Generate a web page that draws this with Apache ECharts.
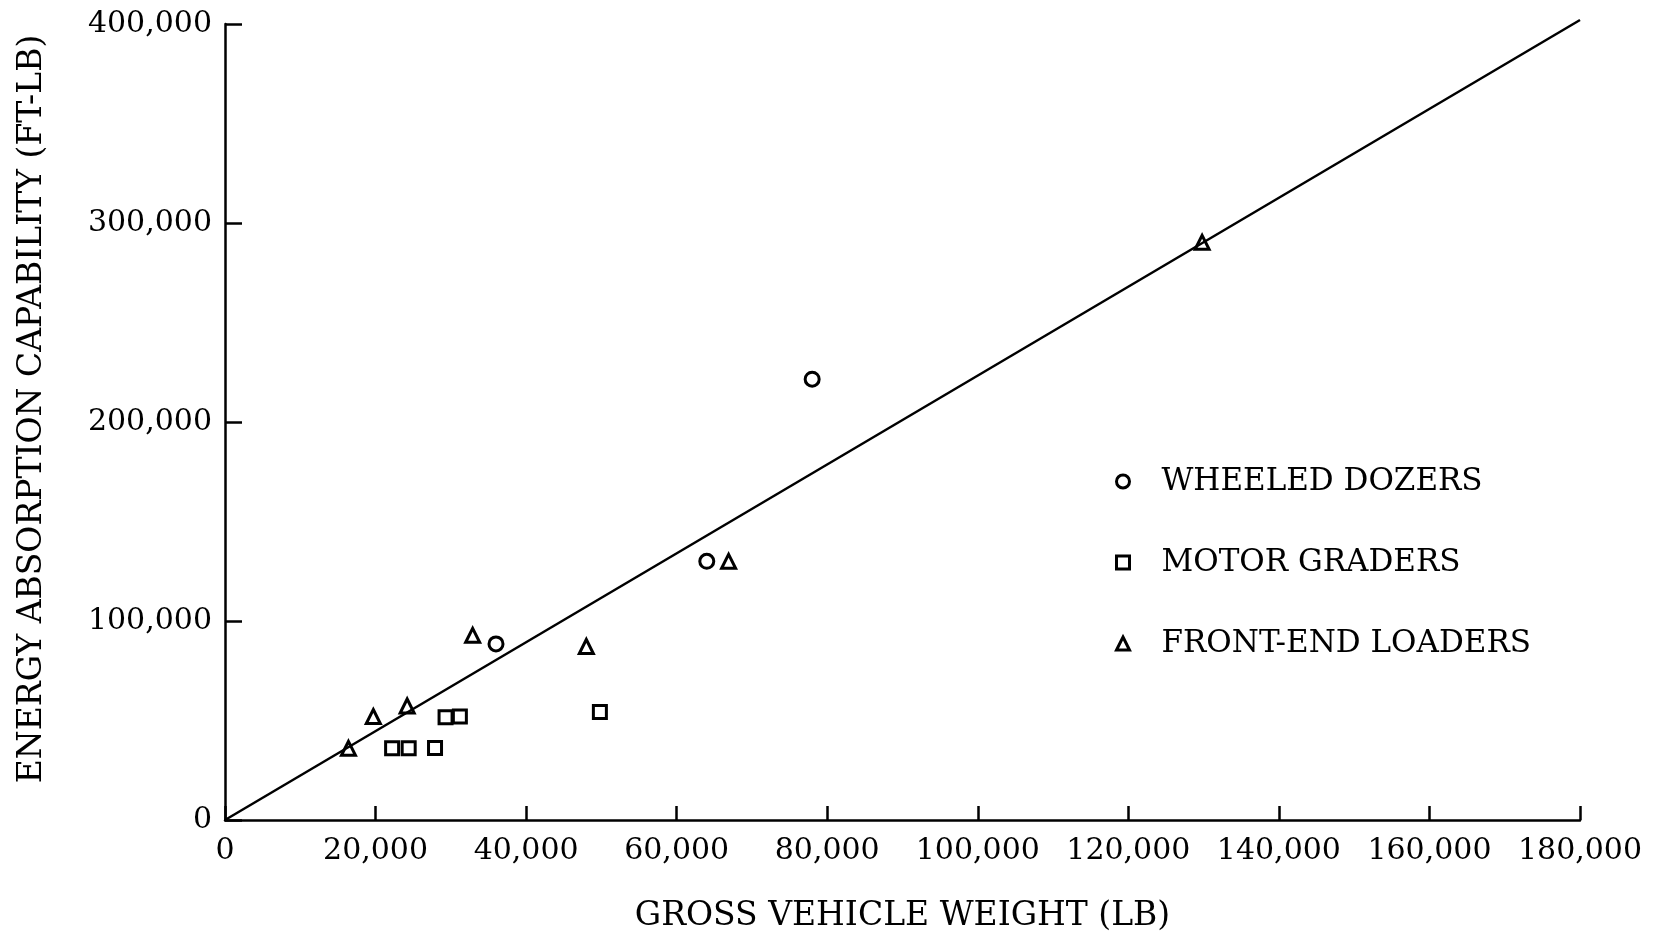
<!DOCTYPE html>
<html>
<head>
<meta charset="utf-8">
<title>Energy Absorption Capability vs Gross Vehicle Weight</title>
<script src="https://cdn.jsdelivr.net/npm/echarts@6/dist/echarts.min.js"></script>
<style>
  html, body { margin: 0; padding: 0; background: #fff; }
  #chart { width: 1656px; height: 935px; }
</style>
</head>
<body>
<div id="chart"></div>
<script>
// Gross vehicle weight (lb) vs energy absorption capability (ft-lb)
const wheeledDozers = [[36000, 88500], [64000, 130000], [78000, 221500]];
const motorGraders = [[22200, 36000], [24400, 36000], [27900, 36200], [29300, 51600], [31200, 52000], [49800, 54300]];
const frontEndLoaders = [[16400, 36000], [19700, 52000], [24200, 57300], [32900, 92800], [48000, 87200], [66900, 130000], [129800, 290300]];
// Fitted trend line through the origin
const trendLine = [[0, 0], [180000, 402000]];

const seriesNames = ['WHEELED DOZERS', 'MOTOR GRADERS', 'FRONT-END LOADERS'];
const xTickValues = [0, 20000, 40000, 60000, 80000, 100000, 120000, 140000, 160000, 180000];
const xTickLabels = ['0', '20,000', '40,000', '60,000', '80,000', '100,000', '120,000', '140,000', '160,000', '180,000'];
const yTickValues = [0, 100000, 200000, 300000, 400000];
const yTickLabels = ['0', '100,000', '200,000', '300,000', '400,000'];

const FONT = '"DejaVu Serif", "Liberation Serif", serif';
const INK = '#000';

const markerStyle = { color: 'rgba(255,255,255,0)', borderColor: INK, borderWidth: 3, opacity: 1 };

const chart = echarts.init(document.getElementById('chart'), null, { renderer: 'canvas' });

chart.setOption({
  backgroundColor: '#fff',
  animation: false,
  grid: { left: 225, right: 76, top: 24, bottom: 115, containLabel: false, outerBoundsMode: 'none' },
  legend: {
    orient: 'vertical',
    left: 1110,
    top: 461,
    itemWidth: 13,
    itemHeight: 13,
    itemGap: 50,
    data: seriesNames,
    itemStyle: { color: '#fff', borderColor: INK, borderWidth: 3, opacity: 1 },
    textStyle: { fontFamily: FONT, fontSize: 31, color: INK, lineHeight: 31, padding: [0, 0, 0, 27] }
  },
  xAxis: {
    type: 'value',
    min: 0,
    max: 180000,
    interval: 20000,
    name: 'GROSS VEHICLE WEIGHT (LB)',
    nameLocation: 'middle',
    nameGap: 80,
    nameTextStyle: { fontFamily: FONT, fontSize: 33, color: INK },
    axisLine: { show: true, onZero: false, lineStyle: { color: INK, width: 2.5 } },
    axisTick: { show: true, inside: true, length: 14, lineStyle: { color: INK, width: 2.5 } },
    axisLabel: {
      margin: 16,
      fontFamily: FONT, fontSize: 30, color: INK,
      formatter: v => xTickLabels[xTickValues.indexOf(v)]
    },
    splitLine: { show: false }
  },
  yAxis: {
    type: 'value',
    min: 0,
    max: 400000,
    interval: 100000,
    name: 'ENERGY ABSORPTION CAPABILITY (FT-LB)',
    nameLocation: 'middle',
    nameGap: 176,
    nameTextStyle: { fontFamily: FONT, fontSize: 33, color: INK, padding: [0, 0, 0, 26] },
    axisLine: { show: true, onZero: false, lineStyle: { color: INK, width: 2.5 } },
    axisTick: { show: true, inside: true, length: 17, lineStyle: { color: INK, width: 2.5 } },
    axisLabel: {
      margin: 13,
      fontFamily: FONT, fontSize: 30, color: INK,
      formatter: v => yTickLabels[yTickValues.indexOf(v)]
    },
    splitLine: { show: false }
  },
  series: [
    {
      name: 'trend',
      type: 'line',
      data: trendLine,
      symbol: 'none',
      clip: false,
      silent: true,
      lineStyle: { color: INK, width: 2.5 },
      z: 1
    },
    {
      name: seriesNames[0],
      type: 'scatter',
      symbol: 'circle',
      symbolSize: 14,
      data: wheeledDozers,
      itemStyle: markerStyle,
      z: 3
    },
    {
      name: seriesNames[1],
      type: 'scatter',
      symbol: 'rect',
      symbolSize: 13,
      data: motorGraders,
      itemStyle: markerStyle,
      z: 3
    },
    {
      name: seriesNames[2],
      type: 'scatter',
      symbol: 'triangle',
      symbolSize: 14,
      data: frontEndLoaders,
      itemStyle: markerStyle,
      z: 3
    }
  ]
});
</script>
</body>
</html>
